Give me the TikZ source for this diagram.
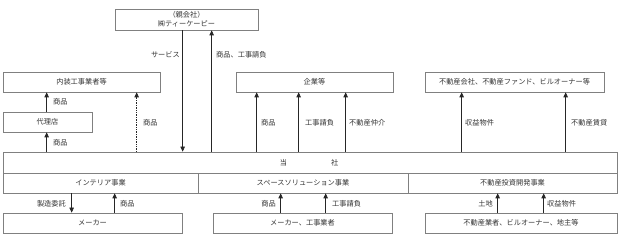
\documentclass[tikz,border=0pt]{standalone}
\usepackage{fontspec}
\setmainfont{Noto Sans CJK JP}
\usetikzlibrary{arrows.meta}
\begin{document}
\begin{tikzpicture}[x=1pt,y=-1pt,
  box/.style={draw=black!50, line width=0.7pt, inner sep=0pt, font=\fontsize{7.2pt}{9pt}\selectfont, text=black!80},
  lbl/.style={inner sep=0pt, font=\fontsize{7.2pt}{9pt}\selectfont, text=black!80},
  arr/.style={line width=0.7pt, black!85, -{Triangle[length=5pt,width=4.5pt]}},
  darr/.style={arr, densely dotted}]
\useasboundingbox (0,0) rectangle (620,237);
% top
\node[box, minimum width=143pt, minimum height=21pt, align=center] (parent) at (186.5,19.5) {（親会社）\\㈱ティーケーピー};
\node[box, minimum width=157pt, minimum height=20pt] (naisou) at (81.5,82) {内装工事業者等};
\node[box, minimum width=89pt, minimum height=20pt] (dai) at (47.5,122) {代理店};
\node[box, minimum width=157pt, minimum height=20pt] (kigyo) at (314.5,82) {企業等};
\node[box, minimum width=179pt, minimum height=20pt] (fud) at (514.5,82) {不動産会社、不動産ファンド、ビルオーナー等};
% main
\node[box, minimum width=614pt, minimum height=21pt] (main) at (310,162.5) {};
\node[lbl] (tousha) at (309,162.5) {当\hspace{44pt}社};
\node[box, minimum width=195pt, minimum height=20pt] (seg1) at (100.5,183) {インテリア事業};
\node[box, minimum width=210pt, minimum height=20pt] (seg2) at (303,183) {スペースソリューション事業};
\node[box, minimum width=209pt, minimum height=20pt] (seg3) at (512.5,183) {不動産投資開発事業};
% bottom
\node[box, minimum width=179pt, minimum height=20pt] (maker) at (92.5,223) {メーカー};
\node[box, minimum width=179pt, minimum height=20pt] (maker2) at (302.5,223) {メーカー、工事業者};
\node[box, minimum width=192pt, minimum height=20pt] (fud2) at (521,223) {不動産業者、ビルオーナー、地主等};
% arrows top-left
\draw[arr] ([xshift=44pt]main.north west) -- ([xshift=44pt]dai.south west);
\draw[arr] ([xshift=44pt]dai.north west) -- ([xshift=44pt]naisou.south west);
\draw[darr] ([xshift=134pt]main.north west) -- ([xshift=134pt]naisou.south west);
% parent
\draw[arr] ([xshift=68pt]parent.south west) -- ([xshift=180pt]main.north west);
\draw[arr] ([xshift=209pt]main.north west) -- ([xshift=97pt]parent.south west);
% kigyo
\draw[arr] ([xshift=254pt]main.north west) -- ([xshift=21pt]kigyo.south west);
\draw[arr] ([xshift=296pt]main.north west) -- ([xshift=63pt]kigyo.south west);
\draw[arr] ([xshift=343pt]main.north west) -- ([xshift=110pt]kigyo.south west);
% fud
\draw[arr] ([xshift=459pt]main.north west) -- ([xshift=37pt]fud.south west);
\draw[arr] ([xshift=563pt]main.north west) -- ([xshift=141pt]fud.south west);
% bottom arrows
\draw[arr] ([xshift=69pt]seg1.south west) -- ([xshift=69pt]maker.north west);
\draw[arr] ([xshift=112pt]maker.north west) -- ([xshift=112pt]seg1.south west);
\draw[arr] ([xshift=68pt]maker2.north west) -- ([xshift=83pt]seg2.south west);
\draw[arr] ([xshift=113pt]maker2.north west) -- ([xshift=128pt]seg2.south west);
\draw[arr] ([xshift=73pt]fud2.north west) -- ([xshift=90pt]seg3.south west);
\draw[arr] ([xshift=119pt]fud2.north west) -- ([xshift=136pt]seg3.south west);
% labels
\node[lbl, anchor=west] (l1) at (53,102) {商品};
\node[lbl, anchor=west] (l2) at (53,143) {商品};
\node[lbl, anchor=west] (l3) at (143,123) {商品};
\node[lbl, anchor=east] (l4) at (180,55) {サービス};
\node[lbl, anchor=west] (l5) at (216,55) {商品、工事請負};
\node[lbl, anchor=west] (l6) at (261,123) {商品};
\node[lbl, anchor=west] (l7) at (305,123) {工事請負};
\node[lbl, anchor=west] (l8) at (349,123) {不動産仲介};
\node[lbl, anchor=west] (l9) at (465,123) {収益物件};
\node[lbl, anchor=west] (l10) at (571,123) {不動産賃貸};
\node[lbl, anchor=east] (l11) at (66,204) {製造委託};
\node[lbl, anchor=west] (l12) at (120,204) {商品};
\node[lbl, anchor=east] (l13) at (276,204) {商品};
\node[lbl, anchor=west] (l14) at (332,204) {工事請負};
\node[lbl, anchor=east] (l15) at (493,204) {土地};
\node[lbl, anchor=west] (l16) at (547,204) {収益物件};
\end{tikzpicture}
\end{document}
